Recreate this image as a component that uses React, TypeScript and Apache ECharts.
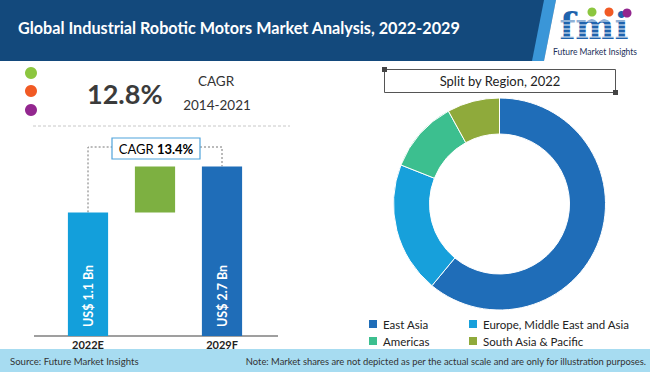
import React, { useEffect, useRef } from "react";
import * as echarts from "echarts";

// ---- data ----
const barCategories = ["2022E", "", "2029F"];
const marketSizeBn = [1.1, 2.7]; // 2022E, 2029F
const historicCagr = "12.8%";
const historicPeriod = "2014-2021";
const forecastCagr = "13.4%";
const regions = ["East Asia", "Europe, Middle East and Asia", "Americas", "South Asia & Pacific"];
const regionShares = [61, 20, 11, 8];

const regionColors = ["#1f6db8", "#17a0db", "#3cbf8f", "#8faa3b"];
const barColors = ["#139fdb", "#7db041", "#1f6db8"];
const Y_MIN = -3.2;
const Y_MAX = 3.0;
const FONT = "Lato";

export default function App() {
  const ref = useRef<HTMLDivElement>(null);
  useEffect(() => {
    document.body.style.margin = "0";
    const chart = echarts.init(ref.current!, null, { renderer: "svg" });
    const wf = [
      [0, Y_MIN, marketSizeBn[0]],
      [1, marketSizeBn[0], marketSizeBn[1]],
      [2, Y_MIN, marketSizeBn[1]],
    ];
    const barLabels = [`US$ ${marketSizeBn[0]} Bn`, "", `US$ ${marketSizeBn[1]} Bn`];
    const legendText = { fontFamily: FONT, fontSize: 11.5, color: "#222", lineHeight: 12 };
    chart.setOption({
      animation: false,
      grid: { left: 54.5, right: 394.5, top: 157.75, bottom: 36 },
      xAxis: {
        type: "category",
        data: barCategories,
        axisLine: { show: false },
        axisTick: { show: false },
        axisLabel: { margin: 3, fontFamily: FONT, fontWeight: "bold", fontSize: 11, color: "#222" },
      },
      yAxis: { type: "value", min: Y_MIN, max: Y_MAX, show: false, splitLine: { show: false } },
      legend: [
        {
          left: 362, top: 313, orient: "vertical", itemGap: 5, itemWidth: 10, itemHeight: 10,
          icon: "rect", data: [regions[0], regions[2]], textStyle: legendText,
        },
        {
          left: 462, top: 313, orient: "vertical", itemGap: 5, itemWidth: 10, itemHeight: 10,
          icon: "rect", data: [regions[1], regions[3]], textStyle: legendText,
        },
      ],
      series: [
        {
          type: "custom",
          data: wf,
          encode: { x: 0, y: [1, 2] },
          renderItem: (params: any, api: any) => {
            const idx = api.value(0);
            const lo = api.value(1);
            const hi = api.value(2);
            const p0 = api.coord([idx, lo]);
            const p1 = api.coord([idx, hi]);
            const w = api.size([1, 0])[0] * 0.6;
            const children: any[] = [
              {
                type: "rect",
                shape: { x: p0[0] - w / 2, y: p1[1], width: w, height: p0[1] - p1[1] },
                style: { fill: barColors[params.dataIndex] },
              },
            ];
            const t = barLabels[params.dataIndex];
            if (t) {
              children.push({
                type: "text",
                x: p0[0],
                y: p0[1] - 9,
                rotation: Math.PI / 2,
                style: {
                  text: t, fill: "#fff", fontFamily: FONT, fontWeight: "bold", fontSize: 12.5,
                  align: "left", verticalAlign: "middle",
                },
              });
            }
            return { type: "group", children };
          },
        },
        {
          type: "pie",
          center: [499.5, 204],
          radius: [70, 106],
          startAngle: 90,
          clockwise: true,
          label: { show: false },
          labelLine: { show: false },
          itemStyle: { borderColor: "#fff", borderWidth: 1 },
          data: regions.map((r, i) => ({ name: r, value: regionShares[i], itemStyle: { color: regionColors[i] } })),
        },
      ],
    });

    const a = chart.convertToPixel({ gridIndex: 0 }, [0, marketSizeBn[0]]) as number[];
    const c = chart.convertToPixel({ gridIndex: 0 }, [2, marketSizeBn[1]]) as number[];
    const base = chart.convertToPixel({ gridIndex: 0 }, [0, Y_MIN]) as number[];
    const lineY = 147;
    const dotted = { stroke: "#777", lineWidth: 1, lineDash: [2, 2], fill: null };

    const stripes = [21, 25, 29, 33, 37].map((y) => ({
      type: "line", shape: { x1: 554, y1: y, x2: 640, y2: y }, style: { stroke: "#fff", lineWidth: 1 }, z: 12,
    }));

    chart.setOption({
      graphic: [
        { type: "rect", shape: { x: 0, y: 0, width: 650, height: 61 }, style: { fill: "#13497c" }, z: 10 },
        { type: "polygon", shape: { points: [[544, 0], [556, 0], [544, 61], [532, 61]] }, style: { fill: "#3a96d8" }, z: 10 },
        { type: "polygon", shape: { points: [[556, 0], [650, 0], [650, 61], [544, 61]] }, style: { fill: "#ffffff" }, z: 10 },
        {
          type: "text", x: 18, y: 27, z: 11,
          style: { text: "Global Industrial Robotic Motors Market Analysis, 2022-2029", fill: "#fff", fontFamily: FONT, fontWeight: "bold", fontSize: 16.2, verticalAlign: "middle" },
        },
        // logo
        {
          type: "text", x: 594, y: 26, z: 11,
          style: { text: "fmi", fill: "#1f63ad", fontFamily: "DejaVu Serif", fontWeight: "bold", fontSize: 37, lineHeight: 28, align: "center", verticalAlign: "middle" },
        },
        ...stripes,
        { type: "circle", shape: { cx: 592, cy: 12, r: 4.5 }, style: { fill: "#8cc63f" }, z: 13 },
        { type: "circle", shape: { cx: 609, cy: 12, r: 4.5 }, style: { fill: "#f15a24" }, z: 13 },
        { type: "circle", shape: { cx: 627, cy: 13, r: 4.5 }, style: { fill: "#93278f" }, z: 13 },
        {
          type: "text", x: 595, y: 52, z: 13,
          style: { text: "Future Market Insights", fill: "#1c2f5a", fontFamily: FONT, fontSize: 8.5, align: "center", verticalAlign: "middle" },
        },
        // left KPI
        { type: "circle", shape: { cx: 31, cy: 73, r: 6 }, style: { fill: "#8cc63f" } },
        { type: "circle", shape: { cx: 31, cy: 91, r: 6 }, style: { fill: "#f15a24" } },
        { type: "circle", shape: { cx: 31, cy: 110, r: 6 }, style: { fill: "#93278f" } },
        {
          type: "text", x: 87, y: 93,
          style: { text: historicCagr, fill: "#3b3b3b", fontFamily: FONT, fontWeight: "bold", fontSize: 27, verticalAlign: "middle" },
        },
        { type: "text", x: 216, y: 81, style: { text: "CAGR", fill: "#333", fontFamily: FONT, fontSize: 13.5, align: "center", verticalAlign: "middle" } },
        { type: "text", x: 217, y: 105, style: { text: historicPeriod, fill: "#333", fontFamily: FONT, fontSize: 13.5, align: "center", verticalAlign: "middle" } },
        { type: "line", shape: { x1: 33, y1: 126, x2: 290, y2: 126 }, style: { stroke: "#c8c8c8", lineWidth: 1, lineDash: [3, 2] } },
        // bar baseline
        { type: "line", shape: { x1: 34, y1: base[1], x2: 278, y2: base[1] }, style: { stroke: "#7f7f7f", lineWidth: 1.5 } },
        // CAGR connectors
        { type: "polyline", shape: { points: [[a[0], a[1]], [a[0], lineY], [112, lineY]] }, style: dotted },
        { type: "polyline", shape: { points: [[200, lineY], [c[0], lineY], [c[0], c[1]]] }, style: dotted },
        { type: "rect", shape: { x: 112, y: 138, width: 88, height: 21 }, style: { fill: "#fff", stroke: "#4fa3db", lineWidth: 1.2 } },
        {
          type: "text", x: 156, y: 149,
          style: {
            text: `{r|CAGR }{b|${forecastCagr}}`, align: "center", verticalAlign: "middle",
            rich: {
              r: { fontFamily: FONT, fontSize: 13, color: "#555" },
              b: { fontFamily: FONT, fontSize: 13, fontWeight: "bold", color: "#444" },
            },
          },
        },
        // split box
        { type: "rect", shape: { x: 384.5, y: 69.5, width: 231, height: 23 }, style: { fill: null, stroke: "#555", lineWidth: 1 } },
        { type: "rect", shape: { x: 382, y: 67, width: 5, height: 5 }, style: { fill: "#444" } },
        { type: "rect", shape: { x: 613, y: 90, width: 5, height: 5 }, style: { fill: "#444" } },
        { type: "text", x: 500, y: 81, style: { text: "Split by Region, 2022", fill: "#222", fontFamily: FONT, fontSize: 13, align: "center", verticalAlign: "middle" } },
        // footer
        { type: "rect", shape: { x: 0, y: 349, width: 650, height: 23 }, style: { fill: "#a7dcf1" }, z: 20 },
        { type: "text", x: 10, y: 361, z: 21, style: { text: "Source: Future Market Insights", fill: "#333", fontFamily: FONT, fontSize: 9.6, verticalAlign: "middle" } },
        {
          type: "text", x: 646, y: 361, z: 21,
          style: { text: "Note: Market shares are not depicted as per the actual scale and are only for illustration purposes.", fill: "#333", fontFamily: FONT, fontSize: 9.4, align: "right", verticalAlign: "middle" },
        },
      ],
    });
    return () => chart.dispose();
  }, []);
  return <div ref={ref} style={{ width: 650, height: 372 }} />;
}
